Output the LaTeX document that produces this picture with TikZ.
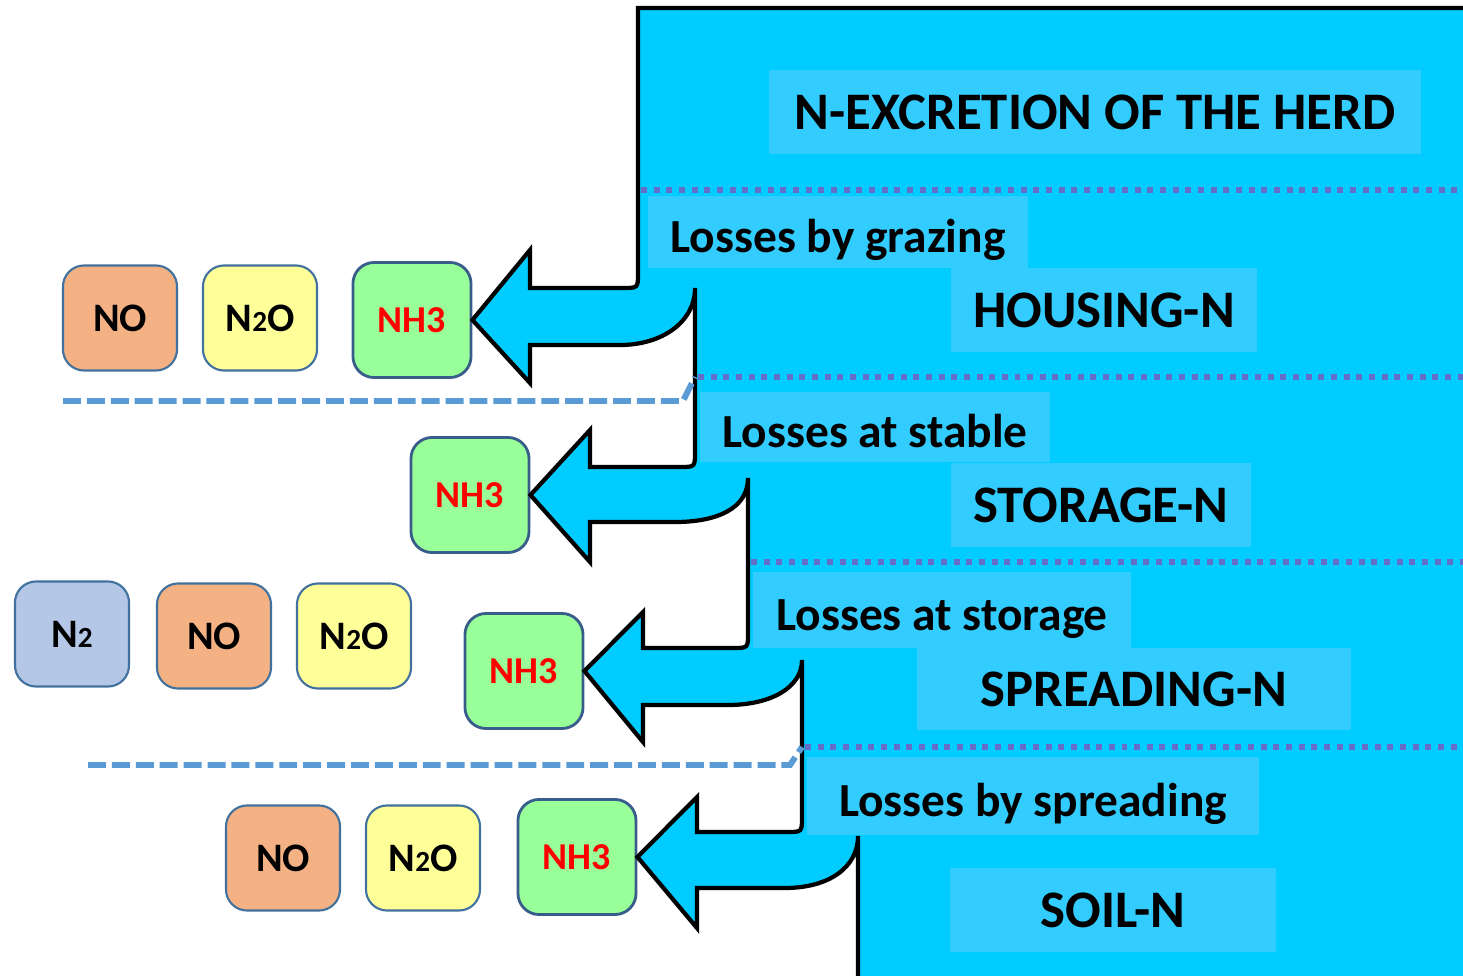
\documentclass[tikz,border=0pt]{standalone}
\usepackage{fontspec}
\setmainfont{Carlito}
\usepackage{xcolor}
\usepackage{tikz}
\definecolor{skyfill}{RGB}{0,204,255}
\definecolor{labelblue}{RGB}{51,204,255}
\definecolor{gasborder}{RGB}{65,113,156}
\definecolor{nhborder}{RGB}{56,93,138}
\definecolor{nofill}{RGB}{244,177,131}
\definecolor{nnofill}{RGB}{255,255,153}
\definecolor{ntwofill}{RGB}{180,199,231}
\definecolor{nhgreen}{RGB}{153,255,153}
\definecolor{dashblue}{RGB}{91,155,213}
\definecolor{dotblue}{RGB}{100,110,200}
\newcommand{\smalltwo}{{\fontsize{8.3}{8}\selectfont 2}}

\begin{document}
\begin{tikzpicture}[x=0.01cm, y=-0.01cm,
  gasbox/.style={draw=gasborder, line width=0.6pt, rounded corners=6pt, minimum width=1.14cm, minimum height=1.05cm, font=\fontsize{11.5}{12}\selectfont\bfseries},
  nhbox/.style={gasbox, draw=nhborder, line width=0.8pt, fill=nhgreen, minimum width=1.18cm, minimum height=1.15cm, text=red, font=\fontsize{10.8}{11}\selectfont\bfseries},
  labelbox/.style={fill=labelblue, inner sep=0pt, text height=11.5pt, text depth=0pt, font=\fontsize{13.5}{14}\selectfont\bfseries},
  stagebox/.style={fill=labelblue, inner sep=0pt, font=\fontsize{15}{16}\selectfont\bfseries},
  stageline/.style={dotblue, line width=1.6pt, dash pattern=on 1.7pt off 1.9pt},
  splitline/.style={dashblue, line width=1.7pt, dash pattern=on 5.1pt off 1.7pt}]
\useasboundingbox (0,0) rectangle (1463,976);

% NH3 boxes, the arrows end on them
\node[nhbox] (nhA) at (412,320) {NH3};
\node[nhbox] (nhB) at (470,495) {NH3};
\node[nhbox] (nhC) at (524,671) {NH3};
\node[nhbox] (nhD) at (577,857) {NH3};

% other gases
\node[gasbox, fill=nofill] (noA) at (120,318) {NO};
\node[gasbox, fill=nnofill] (nnoA) at (260,318) {N\smalltwo O};
\node[gasbox, fill=ntwofill] (ntwoC) at (72,634) {N\smalltwo};
\node[gasbox, fill=nofill] (noC) at (214,636) {NO};
\node[gasbox, fill=nnofill] (nnoC) at (354,636) {N\smalltwo O};
\node[gasbox, fill=nofill] (noD) at (283,858) {NO};
\node[gasbox, fill=nnofill] (nnoD) at (423,858) {N\smalltwo O};

% the N flow with its four loss arrows
\draw[fill=skyfill, line width=1.2pt, line join=miter]
  (1475,8) -- (638,8) -- (638,273) .. controls (638,288) .. (623,288)
  -- (530,288) -- (530,250) -- (nhA.east) -- (530,383) -- (530,345) -- (620,345)
  .. controls (662,345) and (695,322) .. (695,288)
  -- (695,452) .. controls (695,467) .. (680,467)
  -- (590,467) -- (590,430) -- (nhB.east) -- (590,562) -- (590,522) -- (675,522)
  .. controls (718,522) and (748,508) .. (748,478)
  -- (748,633) .. controls (748,648) .. (733,648)
  -- (643,648) -- (643,612) -- (nhC.east) -- (643,742) -- (643,705) -- (728,705)
  .. controls (770,705) and (802,688) .. (802,660)
  -- (802,817) .. controls (802,832) .. (787,832)
  -- (697,832) -- (697,797) -- (nhD.east) -- (697,928) -- (697,888) -- (785,888)
  .. controls (828,888) and (858,868) .. (858,836)
  -- (858,985) -- (1475,985) -- cycle;

% stages and losses
\node[stagebox, minimum width=6.52cm, minimum height=0.83cm] (herd) at (1095,112) {N-EXCRETION OF THE HERD};
\node[labelbox, minimum width=3.80cm, minimum height=0.71cm] (grazing) at (838,232) {Losses by grazing};
\node[stagebox, minimum width=3.06cm, minimum height=0.83cm] (housing) at (1104,310) {HOUSING-N};
\node[labelbox, minimum width=3.50cm, minimum height=0.70cm] (stable) at (875,427) {Losses at stable};
\node[stagebox, minimum width=3.00cm, minimum height=0.83cm] (storage) at (1101,505) {STORAGE-N};
\node[labelbox, minimum width=3.77cm, minimum height=0.75cm] (atstorage) at (942,610) {Losses at storage};
\node[stagebox, minimum width=4.34cm, minimum height=0.81cm] (spreading) at (1134,689) {SPREADING-N};
\node[labelbox, minimum width=4.51cm, minimum height=0.78cm] (byspreading) at (1033,796) {Losses by spreading};
\node[stagebox, minimum width=3.25cm, minimum height=0.84cm] (soil) at (1113,910) {SOIL-N};

% borders between the stages
\draw[stageline] (641,190) -- (1463,190);
\draw[stageline] (698,377) -- (1463,377);
\draw[stageline] (751,562) -- (1463,562);
\draw[stageline] (805,747) -- (1463,747);

\draw[splitline] (63,401) -- (683,401) -- (695,377);
\draw[splitline] (88,765) -- (790,765) -- (802,747);
\end{tikzpicture}
\end{document}
